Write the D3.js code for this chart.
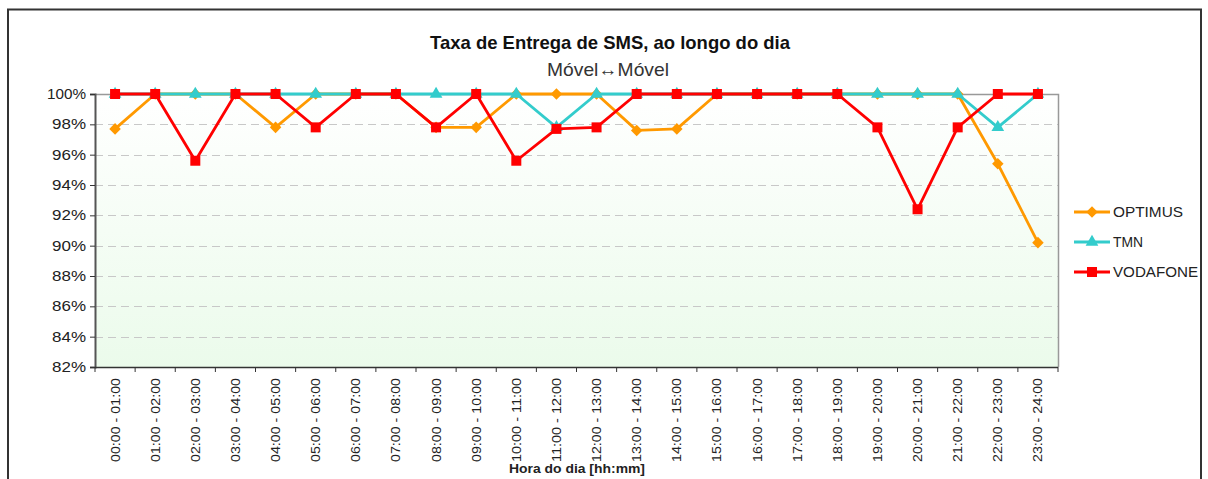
<!DOCTYPE html>
<html><head><meta charset="utf-8">
<script src="https://cdn.jsdelivr.net/npm/d3@7"></script>
<style>body{margin:0;background:#fff}svg{display:block}</style>
</head><body>
<script>
const categories = ["00:00 - 01:00","01:00 - 02:00","02:00 - 03:00","03:00 - 04:00","04:00 - 05:00","05:00 - 06:00","06:00 - 07:00","07:00 - 08:00","08:00 - 09:00","09:00 - 10:00","10:00 - 11:00","11:00 - 12:00","12:00 - 13:00","13:00 - 14:00","14:00 - 15:00","15:00 - 16:00","16:00 - 17:00","17:00 - 18:00","18:00 - 19:00","19:00 - 20:00","20:00 - 21:00","21:00 - 22:00","22:00 - 23:00","23:00 - 24:00"];
const optimus = [97.7,100,100,100,97.8,100,100,100,97.8,97.8,100,100,100,97.6,97.7,100,100,100,100,100,100,100,95.4,90.2];
const tmn = [100,100,100,100,100,100,100,100,100,100,100,97.8,100,100,100,100,100,100,100,100,100,100,97.8,100];
const vodafone = [100,100,95.6,100,100,97.8,100,100,97.8,100,95.6,97.7,97.8,100,100,100,100,100,100,97.8,92.4,97.8,100,100];
const yTicks = [82,84,86,88,90,92,94,96,98,100];
const seriesNames = ["OPTIMUS","TMN","VODAFONE"];
const seriesColors = ["#FF9900","#33CCCC","#FF0000"];
const seriesData = [optimus, tmn, vodafone];
const titleText = "Taxa de Entrega de SMS, ao longo do dia";
const subtitleText = "Móvel↔Móvel";
const xTitle = "Hora do dia [hh:mm]";

const W = 1208, H = 479;
const L = 95, R = 1058, T = 94, B = 367;
const svg = d3.select("body").append("svg").attr("width", W).attr("height", H)
  .style("font-family", "'Liberation Sans', Arial, sans-serif");

const defs = svg.append("defs");
const grad = defs.append("linearGradient").attr("id","bg").attr("x1",0).attr("y1",0).attr("x2",0).attr("y2",1);
grad.append("stop").attr("offset","0%").attr("stop-color","#ffffff");
grad.append("stop").attr("offset","100%").attr("stop-color","#ebfbeb");

// outer frame
svg.append("rect").attr("x",8).attr("y",9.5).attr("width",1193).attr("height",480)
  .attr("fill","#fff").attr("stroke","#333").attr("stroke-width",2);

const x = d3.scaleBand().domain(categories).range([L, R]);
const y = d3.scaleLinear().domain([82,100]).range([B, T]);

svg.append("rect").attr("x",L).attr("y",T).attr("width",R-L).attr("height",B-T).attr("fill","url(#bg)");

// grid
svg.append("g").selectAll("line").data(yTicks.filter(d=>d>82 && d<100)).join("line")
  .attr("x1",L).attr("x2",R).attr("y1",d=>Math.round(y(d))+0.5).attr("y2",d=>Math.round(y(d))+0.5)
  .attr("stroke","#c8c8c8").attr("stroke-width",1).attr("stroke-dasharray","8,5");

// plot border top/right
svg.append("path").attr("d",`M${L},${T+0.5}H${R+0.5}V${B}`).attr("fill","none").attr("stroke","#999").attr("stroke-width",1.5);

// y axis
const yAxis = d3.axisLeft(y).tickValues(yTicks).tickFormat(d=>d+"%").tickSize(5).tickPadding(4);
const gy = svg.append("g").attr("transform",`translate(${L},0)`).call(yAxis);
gy.select(".domain").attr("stroke","#555").attr("stroke-width",2);
gy.selectAll(".tick line").attr("stroke","#333");
gy.selectAll("text").attr("font-size",14.5).attr("fill","#222").attr("font-family","'Liberation Sans', Arial, sans-serif")
  .attr("textLength",34).attr("lengthAdjust","spacingAndGlyphs");
gy.selectAll(".tick").filter(d=>d===100).select("text").attr("textLength",39);

// x axis
const gx = svg.append("g").attr("transform",`translate(0,${B})`);
gx.append("line").attr("x1",L).attr("x2",R).attr("y1",0.5).attr("y2",0.5).attr("stroke","#333").attr("stroke-width",1.5);
const bounds = d3.range(categories.length+1).map(i => L + i*x.step());
gx.selectAll("line.tk").data(bounds).join("line").attr("class","tk")
  .attr("x1",d=>d).attr("x2",d=>d).attr("y1",0).attr("y2",5).attr("stroke","#333");
gx.selectAll("text").data(categories).join("text")
  .attr("transform",d=>`translate(${x(d)+x.bandwidth()/2+4.5},${11}) rotate(-90)`)
  .attr("text-anchor","end").attr("font-size",13.5).attr("fill","#222")
  .attr("textLength",84).attr("lengthAdjust","spacingAndGlyphs")
  .text(d=>d);

svg.append("text").attr("x",577).attr("y",473).attr("text-anchor","middle")
  .attr("font-size",12.5).attr("font-weight","bold").attr("fill","#222")
  .attr("textLength",136).attr("lengthAdjust","spacingAndGlyphs").text(xTitle);

// titles
svg.append("text").attr("x",610).attr("y",49).attr("text-anchor","middle")
  .attr("font-size",19).attr("font-weight","bold").attr("fill","#111")
  .attr("textLength",360).attr("lengthAdjust","spacingAndGlyphs").text(titleText);
svg.append("text").attr("x",608).attr("y",76).attr("text-anchor","middle")
  .attr("font-size",19).attr("fill","#333")
  .attr("textLength",122).attr("lengthAdjust","spacingAndGlyphs").text(subtitleText);

// series
const line = d3.line().x((d,i)=>x(categories[i])+x.bandwidth()/2).y(d=>y(d));
const symbols = [d3.symbolDiamond2, d3.symbolTriangle, d3.symbolSquare];
const sizes = [85, 70, 100];
seriesData.forEach((data, si) => {
  const g = svg.append("g");
  g.append("path").datum(data).attr("d", line).attr("fill","none")
    .attr("stroke", seriesColors[si]).attr("stroke-width", 2.8).attr("stroke-linejoin","round");
  g.selectAll("path.m").data(data).join("path").attr("class","m")
    .attr("transform",(d,i)=>`translate(${x(categories[i])+x.bandwidth()/2},${y(d)})`)
    .attr("d", d3.symbol().type(symbols[si]).size(sizes[si]))
    .attr("fill", seriesColors[si]);
});

// legend
const lg = svg.append("g");
seriesNames.forEach((n, i) => {
  const yy = 212 + i*30;
  lg.append("line").attr("x1",1074).attr("x2",1110).attr("y1",yy).attr("y2",yy)
    .attr("stroke",seriesColors[i]).attr("stroke-width",2.8);
  lg.append("path").attr("transform",`translate(1092,${yy})`)
    .attr("d", d3.symbol().type(symbols[i]).size(sizes[i])).attr("fill",seriesColors[i]);
  lg.append("text").attr("x",1113).attr("y",yy+5).attr("font-size",14.5).attr("fill","#222")
    .attr("textLength", [70,30,85][i]).attr("lengthAdjust","spacingAndGlyphs").text(n);
});
</script>
</body></html>
